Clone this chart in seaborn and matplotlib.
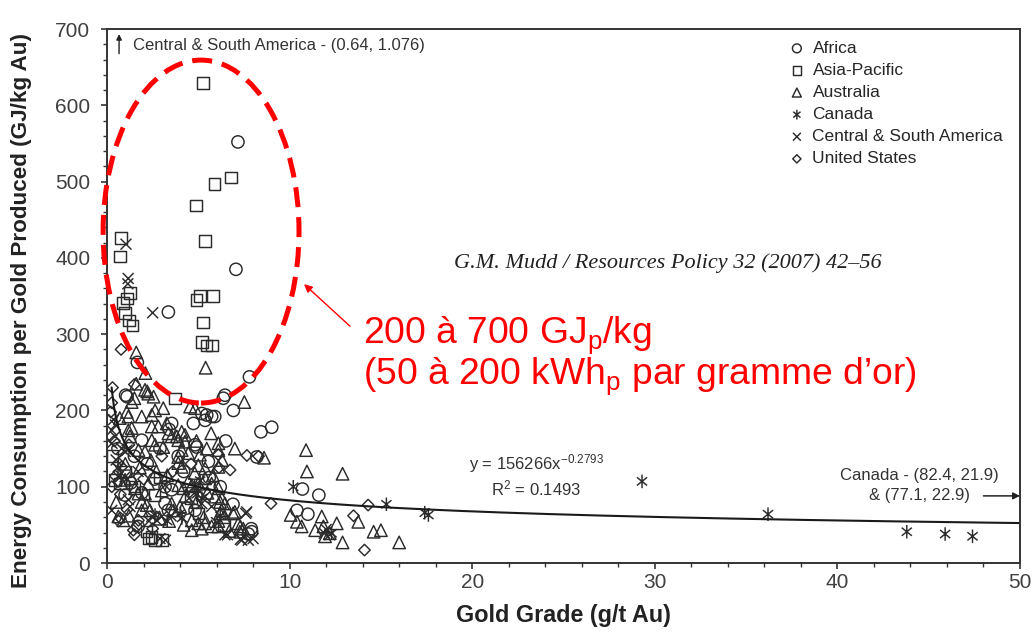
import numpy as np
import pandas as pd
import matplotlib
matplotlib.use("Agg")
import matplotlib.pyplot as plt
import seaborn as sns
from matplotlib.path import Path
from matplotlib.patches import Ellipse
from matplotlib.ticker import MultipleLocator

# (grade g/t, energy GJ/kg)
africa = [(7.17, 552), (7.06, 385), (3.36, 329), (1.66, 263), (7.8, 244), (6.46, 220), (6.37, 216),
          (1.02, 220), (1.1, 218), (6.92, 200), (5.9, 192), (5.19, 196), (5.46, 194), (5.73, 192),
          (5.37, 187), (4.73, 183), (3.54, 183), (3.4, 175), (1.9, 161), (4.82, 155), (4.91, 152),
          (5.55, 133), (8.43, 172), (9.02, 178), (8.2, 139), (0.99, 89), (3.18, 100), (3.54, 96),
          (3.18, 78), (3.36, 69), (4.82, 69), (4.36, 72), (10.7, 97), (11.6, 89), (10.4, 69),
          (11.0, 64), (7.92, 41), (7.74, 38), (7.9, 45), (1.7, 48), (2.9, 150), (2.2, 130),
          (4.2, 120), (5.6, 112), (6.2, 100), (0.6, 150), (1.3, 105), (6.9, 77), (1.9, 92),
          (2.6, 110), (3.9, 140), (6.5, 160), (1.5, 140)]
asia_pacific = [(5.26, 629), (6.8, 505), (5.9, 497), (4.87, 469), (5.37, 422), (5.1, 350), (4.9, 345),
                (5.8, 350), (5.26, 315), (5.2, 290), (5.45, 285), (5.75, 285), (0.77, 426), (0.71, 402),
                (1.26, 354), (1.1, 347), (0.88, 341), (0.99, 328), (1.2, 318), (1.4, 311), (3.72, 216),
                (2.26, 32), (2.63, 30), (3.0, 30), (2.17, 41), (2.45, 34), (0.44, 109), (0.71, 104),
                (2.6, 89), (1.0, 120), (5.0, 65), (1.5, 100), (2.9, 112), (4.6, 85), (0.3, 140), (6.4, 50)]
australia = [(5.4, 256), (1.6, 276), (2.1, 249), (2.08, 227), (2.26, 222), (1.5, 216), (2.2, 225),
             (2.55, 218), (7.52, 211), (1.35, 211), (1.08, 198), (1.17, 192), (1.9, 192), (2.45, 194),
             (2.63, 200), (3.08, 203), (4.55, 205), (4.82, 203), (2.45, 179), (2.81, 179), (3.27, 183),
             (4.09, 172), (4.27, 168), (1.17, 174), (1.35, 177), (1.26, 166), (2.45, 161), (2.63, 155),
             (3.08, 152), (3.36, 170), (3.54, 166), (3.82, 166), (3.9, 161), (4.27, 159), (5.46, 150),
             (6.1, 148), (2.08, 146), (1.72, 148), (4.09, 148), (3.9, 139), (4.45, 144), (5.09, 142),
             (5.0, 128), (5.37, 124), (6.1, 126), (3.9, 131), (4.09, 126), (6.1, 157), (8.6, 138),
             (10.9, 148), (10.95, 120), (12.9, 117), (1.53, 98), (1.72, 91), (2.26, 104), (2.08, 91),
             (3.9, 102), (4.18, 98), (4.45, 107), (4.64, 102), (5.0, 104), (5.37, 111), (5.73, 104),
             (6.1, 98), (0.62, 61), (0.89, 56), (1.9, 69), (2.35, 69), (1.9, 80), (2.17, 76), (3.54, 78),
             (3.63, 69), (4.0, 74), (4.64, 56), (5.0, 52), (5.37, 52), (5.73, 48), (6.1, 48), (5.91, 87),
             (6.19, 80), (6.28, 69), (4.64, 43), (5.19, 45), (0.99, 109), (1.35, 111), (6.28, 85),
             (6.46, 78), (7.0, 67), (6.19, 65), (6.1, 55), (6.4, 60), (7.19, 52), (7.46, 45), (7.28, 41),
             (10.06, 63), (10.4, 54), (10.66, 48), (11.4, 43), (11.76, 61), (11.85, 48), (12.2, 39),
             (12.58, 52), (11.94, 35), (12.9, 27), (13.76, 54), (14.6, 41), (15.0, 43), (16.0, 27),
             (6.9, 65), (7.3, 48), (1.0, 130), (1.8, 125), (2.7, 120), (3.3, 115), (4.8, 118), (5.8, 115),
             (2.4, 135), (3.0, 95), (0.7, 190), (1.6, 235), (7.0, 150), (4.9, 160), (5.7, 170), (6.3, 135),
             (2.9, 58), (4.3, 88), (5.5, 92), (0.5, 80), (1.2, 62), (3.4, 55), (4.9, 80), (5.3, 60),
             (4.2, 50), (6.7, 42)]
canada = [(29.3, 107), (36.2, 64), (43.8, 41), (45.9, 38), (47.4, 35), (17.6, 63), (17.4, 66),
          (15.3, 77), (10.2, 100), (2.63, 63), (4.8, 100), (5.0, 95), (5.1, 108), (4.9, 90), (4.0, 65),
          (4.1, 59), (5.2, 85), (12.3, 39), (0.6, 125), (3.3, 55), (6.2, 62)]
central_south_america = [(1.04, 418), (1.16, 373), (1.14, 366), (2.5, 328), (0.36, 188), (0.46, 181),
                         (0.26, 174), (0.44, 166), (0.27, 157), (1.1, 148), (1.0, 146), (3.18, 102),
                         (0.26, 69), (1.26, 74), (1.17, 83), (2.45, 61), (2.72, 56), (3.0, 61), (2.9, 32),
                         (3.2, 30), (5.19, 78), (5.37, 87), (5.73, 74), (7.65, 67), (6.0, 53), (6.46, 37),
                         (7.38, 30), (7.74, 30), (8.0, 32), (11.9, 39), (12.2, 37), (0.62, 113), (0.99, 113),
                         (0.8, 150), (6.6, 37), (7.3, 31), (7.6, 65), (3.5, 62), (2.3, 55), (1.7, 120),
                         (0.5, 135), (4.5, 85), (12.0, 44)]
united_states = [(0.77, 280), (1.5, 234), (0.26, 210), (0.62, 131), (0.8, 126), (7.66, 141), (8.3, 140),
                 (6.1, 142), (6.13, 125), (6.74, 122), (8.98, 78), (13.5, 62), (14.3, 76), (14.1, 17),
                 (0.46, 114), (0.64, 107), (0.73, 90), (0.26, 100), (1.72, 56), (1.63, 48), (1.44, 43),
                 (1.5, 37), (0.73, 59), (0.64, 55), (0.2, 198), (1.2, 155), (2.0, 110), (3.6, 120),
                 (4.6, 130), (0.4, 160), (2.5, 45), (1.1, 70), (3.0, 140), (0.3, 230)]

regions = ['Africa', 'Asia-Pacific', 'Australia', 'Canada', 'Central & South America', 'United States']
series = [africa, asia_pacific, australia, canada, central_south_america, united_states]

# power-law trend given on the chart (scaled to GJ/kg)
fit_coef, fit_exp = 156.266, -0.2793

sns.set_style('ticks')
plt.rcParams['font.family'] = ['Liberation Sans', 'DejaVu Sans']
plt.rcParams['mathtext.fontset'] = 'custom'
plt.rcParams['mathtext.rm'] = 'Liberation Sans'
plt.rcParams['mathtext.it'] = 'Liberation Sans:italic'
plt.rcParams['mathtext.bf'] = 'Liberation Sans:bold'

M, L = Path.MOVETO, Path.LINETO
cross = Path([(-1, -1), (1, 1), (-1, 1), (1, -1)], [M, L, M, L])
star = Path([(0, -1), (0, 1), (-0.75, -0.6), (0.75, 0.6), (-0.75, 0.6), (0.75, -0.6)], [M, L, M, L, M, L])
markers = {'Africa': ('o', 78), 'Asia-Pacific': ('s', 68), 'Australia': ('^', 80),
           'Canada': (star, 95), 'Central & South America': (cross, 62), 'United States': ('D', 34)}

ink = '#2b2b2b'
fig = plt.figure(figsize=(10.35, 6.39), dpi=100)
ax = fig.add_axes([0.1034, 0.1189, 0.8821, 0.8357])

for name, pts in zip(regions, series):
    df = pd.DataFrame(pts, columns=['grade', 'energy'])
    m, s = markers[name]
    sns.scatterplot(data=df, x='grade', y='energy', marker=m, s=s, facecolor='none',
                    edgecolor=ink, linewidth=1.05, label=name, ax=ax)

x_fit = np.linspace(0.25, 50, 400)
sns.lineplot(x=x_fit, y=fit_coef * x_fit ** fit_exp, color='#1a1a1a', lw=1.5, ax=ax)

ax.set_xlim(0, 50)
ax.set_ylim(0, 700)
ax.xaxis.set_major_locator(MultipleLocator(10))
ax.xaxis.set_minor_locator(MultipleLocator(2))
ax.yaxis.set_major_locator(MultipleLocator(100))
ax.yaxis.set_minor_locator(MultipleLocator(20))
ax.tick_params(which='major', length=4, width=1.2, color='#333', labelsize=15, labelcolor='#404040')
ax.tick_params(axis='y', which='major', pad=8)
ax.tick_params(which='minor', length=3, width=1.0, color='#333')
for sp in ax.spines.values():
    sp.set_color('#333')
    sp.set_linewidth(1.4)

ax.set_xlabel('Gold Grade (g/t Au)', fontsize=16.8, fontweight='bold', color='#222', labelpad=8)
ax.set_ylabel('Energy Consumption per Gold Produced (GJ/kg Au)', fontsize=16.2, fontweight='bold',
              color='#222')
ax.yaxis.set_label_coords(-0.082, 0.472)

ax.legend(loc='upper left', bbox_to_anchor=(0.748, 0.978), frameon=False, fontsize=12.5,
          markerscale=0.72, handlelength=0.8, handletextpad=0.5, labelspacing=0.4,
          borderaxespad=0, borderpad=0)

# annotations
ax.annotate('', xy=(0.66, 697), xytext=(0.66, 664),
            arrowprops=dict(arrowstyle='-|>', color='#222', lw=1, mutation_scale=8))
ax.text(1.42, 678, 'Central & South America - (0.64, 1.076)', fontsize=12, color='#333', va='center')
ax.text(44.5, 115, 'Canada - (82.4, 21.9)', fontsize=12, color='#333', va='center', ha='center')
ax.text(44.5, 88, '& (77.1, 22.9)', fontsize=12, color='#333', va='center', ha='center')
ax.annotate('', xy=(50, 88), xytext=(48.0, 88), annotation_clip=False,
            arrowprops=dict(arrowstyle='-|>', color='#222', lw=1.1, mutation_scale=10,
                            shrinkA=0, shrinkB=0))
ax.text(23.5, 131, r'y = 156266x$^{-0.2793}$', fontsize=12, color='#333', va='center', ha='center')
ax.text(23.5, 98, r'R$^{2}$ = 0.1493', fontsize=12, color='#333', va='center', ha='center')
ax.text(30.7, 393, 'G.M. Mudd / Resources Policy 32 (2007) 42–56', fontsize=16, style='italic',
        family=['Liberation Serif', 'DejaVu Serif'], color='#222', va='center', ha='center')

ax.add_patch(Ellipse((5.15, 434.5), 10.73, 449.5, fill=False, edgecolor='#ff0000', lw=3.6,
                     linestyle=(0, (4, 2)), clip_on=False, zorder=5))
ax.annotate('', xy=(10.68, 368), xytext=(13.42, 308),
            arrowprops=dict(arrowstyle='-|>', color='#ff0000', lw=1, mutation_scale=12))
ax.text(14.02, 288, r'200 à 700 GJ$_{\mathrm{p}}$/kg', fontsize=26.8, color='#ff0000', va='baseline')
ax.text(14.02, 234.6, r'(50 à 200 kWh$_{\mathrm{p}}$ par gramme d’or)', fontsize=26.8, color='#ff0000',
        va='baseline')

fig.savefig('out.png', dpi=100)
